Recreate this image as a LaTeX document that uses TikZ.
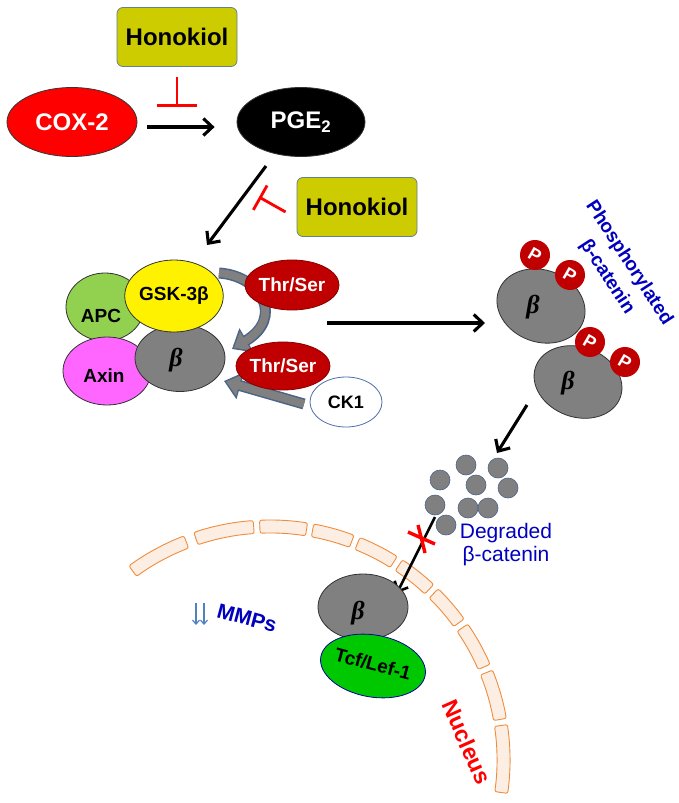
\documentclass[tikz,border=0pt]{standalone}
\usepackage{fontspec}
\setmainfont{Liberation Sans}
\newfontfamily\serifbi{Liberation Serif}
\usetikzlibrary{shapes.geometric,arrows.meta}
\newcommand\fsz[2]{\fontsize{#1}{#2}\selectfont}
\definecolor{honfill}{RGB}{204,204,0}
\definecolor{honedge}{RGB}{100,130,140}
\definecolor{dred}{RGB}{192,0,0}
\definecolor{apcg}{RGB}{146,208,80}
\definecolor{axinm}{RGB}{255,102,255}
\definecolor{bgray}{RGB}{128,128,128}
\definecolor{edgeb}{RGB}{75,100,135}
\definecolor{txtblue}{RGB}{0,0,190}
\definecolor{membf}{RGB}{253,238,228}
\definecolor{membe}{RGB}{240,140,60}
\definecolor{tcfg}{RGB}{0,200,0}
\definecolor{mmpa}{RGB}{80,130,190}
\definecolor{ck1e}{RGB}{79,110,170}
\tikzset{
  honbox/.style={draw=honedge, fill=honfill, rounded corners=6pt, line width=0.8pt,
    minimum width=120pt, minimum height=59pt, font=\bfseries\fsz{24}{28}, text=black},
  ell/.style={ellipse, draw=black!80, line width=0.8pt, inner sep=0pt},
  bigbeta/.style={font=\serifbi\bfseries\itshape\fsz{26}{28}},
  arr/.style={line width=3.1pt, -{Straight Barb[length=9pt,width=17pt]}},
  inh/.style={draw=red, line width=2.8pt},
  pcirc/.style={circle, fill=dred, draw=none, minimum size=30pt, inner sep=0pt,
    text=white, font=\bfseries\fsz{18}{20}},
  dcirc/.style={circle, fill=bgray, draw=edgeb, line width=0.6pt, minimum size=20pt, inner sep=0pt},
  memb/.style={draw=membe, fill=membf, line width=0.9pt, rounded corners=2pt},
  blkout/.style={draw=edgeb, line width=11pt, -{Triangle[length=17pt,width=27pt]}},
  blkin/.style={draw=bgray, line width=8pt, shorten >=2.2pt, -{Triangle[length=13.5pt,width=21pt]}},
}
\begin{document}
\begin{tikzpicture}[x=1pt,y=1pt]
\useasboundingbox (0,0) rectangle (678,-803);
\fill[white] (0,0) rectangle (678,-803);

% nuclear membrane
\foreach \a/\b in {126/111,108.5/94,92.5/81,79.5/69.5,68/58,56.5/47,45.5/36,34.5/23.5,22/10,8.5/-8}
  \draw[memb] ([shift={(270,-760)}]\a:227) arc[start angle=\a, end angle=\b, radius=227]
     -- ([shift={(270,-760)}]\b:240) arc[start angle=\b, end angle=\a, radius=240] -- cycle;

% top
\node[honbox] (hon1) at (177,-37) {Honokiol};
\node[ell, fill=red, minimum width=130pt, minimum height=69pt, text=white, font=\bfseries\fsz{24}{28}] (cox) at (72,-122) {COX-2};
\node[ell, fill=black, minimum width=128pt, minimum height=69pt, text=white, font=\bfseries\fsz{24}{28}] (pge) at (301,-122) {PGE\textsubscript{2}};
\draw[arr, shorten <=10pt, shorten >=22pt] ([yshift=-5pt]cox.east) -- ([yshift=-5pt]pge.west);
\coordinate (t1) at (177,-107);
\draw[inh, shorten <=10pt, -{Bar[width=40pt,line width=2.8pt]}] (hon1.south) -- (t1);

\node[honbox] (hon2) at (357,-207) {Honokiol};
\coordinate (p1) at (266,-166);
\coordinate (p2) at (207,-245);
\draw[arr] (p1) -- (p2);
\coordinate (t2) at (259,-197);
\draw[inh, -{Bar[width=28pt,line width=2.8pt]}] ([xshift=-11pt,yshift=-5pt]hon2.west) -- (t2);

% destruction complex
\node[ell, fill=apcg, minimum width=78pt, minimum height=68pt] (apc) at (105,-307) {};
\node[font=\bfseries\fsz{19}{20}] (apct) at (101,-316) {APC};
\node[ell, fill=axinm, minimum width=88pt, minimum height=68pt] (axin) at (107,-371) {};
\node[font=\bfseries\fsz{19}{20}] (axint) at (104,-376) {Axin};
\node[ell, fill=bgray, minimum width=90pt, minimum height=67pt] (bc) at (180,-358) {};
\node[bigbeta] (bct) at (176,-360) {β};
\node[ell, fill=yellow, minimum width=92pt, minimum height=72pt, font=\bfseries\fsz{19}{20}] (gsk) at (174,-296) {GSK-3β};

% block arrows
\coordinate (ba1) at (219,-273);
\coordinate (ba2) at (232,-349);
\draw[blkout] (ba1) .. controls (262,-276) and (284,-318) .. (ba2);
\draw[blkin] (ba1) .. controls (262,-276) and (284,-318) .. (ba2);
\coordinate (bb1) at (304,-404);
\coordinate (bb2) at (224,-381);
\draw[blkout] (bb1) -- (bb2);
\draw[blkin] (bb1) -- (bb2);

\node[ell, fill=dred, draw=dred!70!black, minimum width=78pt, minimum height=50pt, text=white, font=\bfseries\fsz{19}{20}] (ts1) at (292,-285) {Thr/Ser};
\node[ell, fill=dred, draw=dred!70!black, minimum width=80pt, minimum height=48pt, text=white, font=\bfseries\fsz{19}{20}] (ts2) at (283,-366) {Thr/Ser};
\node[ell, fill=white, draw=ck1e, minimum width=72pt, minimum height=50pt, font=\bfseries\fsz{18}{20}] (ck1) at (346,-402) {CK1};

% phosphorylated beta-catenin
\coordinate (h1) at (327,-323);
\coordinate (h2) at (485,-323);
\draw[arr] (h1) -- (h2);
\node[ell, fill=bgray, minimum width=90pt, minimum height=72pt, rotate=-20] (pb1) at (541,-306) {};
\node[bigbeta] (pb1t) at (533,-307) {β};
\node[pcirc, rotate=-30] (pp1) at (535,-255) {P};
\node[pcirc, rotate=-30] (pp2) at (570,-275) {P};
\node[ell, fill=bgray, minimum width=90pt, minimum height=70pt, rotate=-20] (pb2) at (578,-382) {};
\node[bigbeta] (pb2t) at (568,-383) {β};
\node[pcirc, rotate=-30] (pp3) at (590,-342) {P};
\node[pcirc, rotate=-30] (pp4) at (625,-362) {P};
\node[rotate=-57, align=center, text=txtblue, font=\bfseries\fsz{19}{26}] (phl) at (618,-270) {Phosphorylated\\β-catenin};

% degraded
\coordinate (g1) at (527,-405);
\coordinate (g2) at (497,-453);
\draw[arr] (g1) -- (g2);
\node[dcirc] (d1) at (466,-465) {};
\node[dcirc] (d2) at (498,-468) {};
\node[dcirc] (d3) at (440,-480) {};
\node[dcirc] (d4) at (476,-485) {};
\node[dcirc] (d5) at (508,-488) {};
\node[dcirc] (d6) at (435,-505) {};
\node[dcirc] (d7) at (468,-508) {};
\node[dcirc] (d8) at (488,-508) {};
\node[dcirc] (d9) at (446,-525) {};
\node[align=center, text=txtblue, font=\fsz{21}{23}] (degl) at (506,-545) {Degraded\\β-catenin};

% nucleus
\coordinate (n1) at (435,-517);
\coordinate (n2) at (397,-593);
\draw[line width=2.6pt, -{Straight Barb[length=8pt,width=15pt]}] (n1) -- (n2);
\draw[red, line width=3.4pt] (408,-532) -- (435,-544) (418,-525) -- (425,-553);
\node[ell, fill=bgray, minimum width=90pt, minimum height=66pt] (nb) at (363,-607) {};
\node[bigbeta] (nbt) at (358,-613) {β};
\node[ell, fill=tcfg, draw=blue!60!black, minimum width=106pt, minimum height=62pt, rotate=-10] (tcf) at (373,-666) {};
\node[rotate=-15, font=\bfseries\fsz{19}{20}] (tcft) at (373,-664) {Tcf/Lef-1};

\coordinate (m1) at (196,-603);
\coordinate (m2) at (196,-625);
\coordinate (m3) at (204,-603);
\coordinate (m4) at (204,-625);
\draw[mmpa, line width=1.2pt, -{Straight Barb[length=4pt,width=7pt]}] (m1) -- (m2);
\draw[mmpa, line width=1.2pt, -{Straight Barb[length=4pt,width=7pt]}] (m3) -- (m4);
\node[rotate=-15, text=txtblue, font=\bfseries\fsz{21}{23}] (mmp) at (247,-618) {MMPs};
\node[rotate=-66, text=red, font=\bfseries\fsz{23}{25}] (nuc) at (467,-742) {Nucleus};
\end{tikzpicture}
\end{document}
